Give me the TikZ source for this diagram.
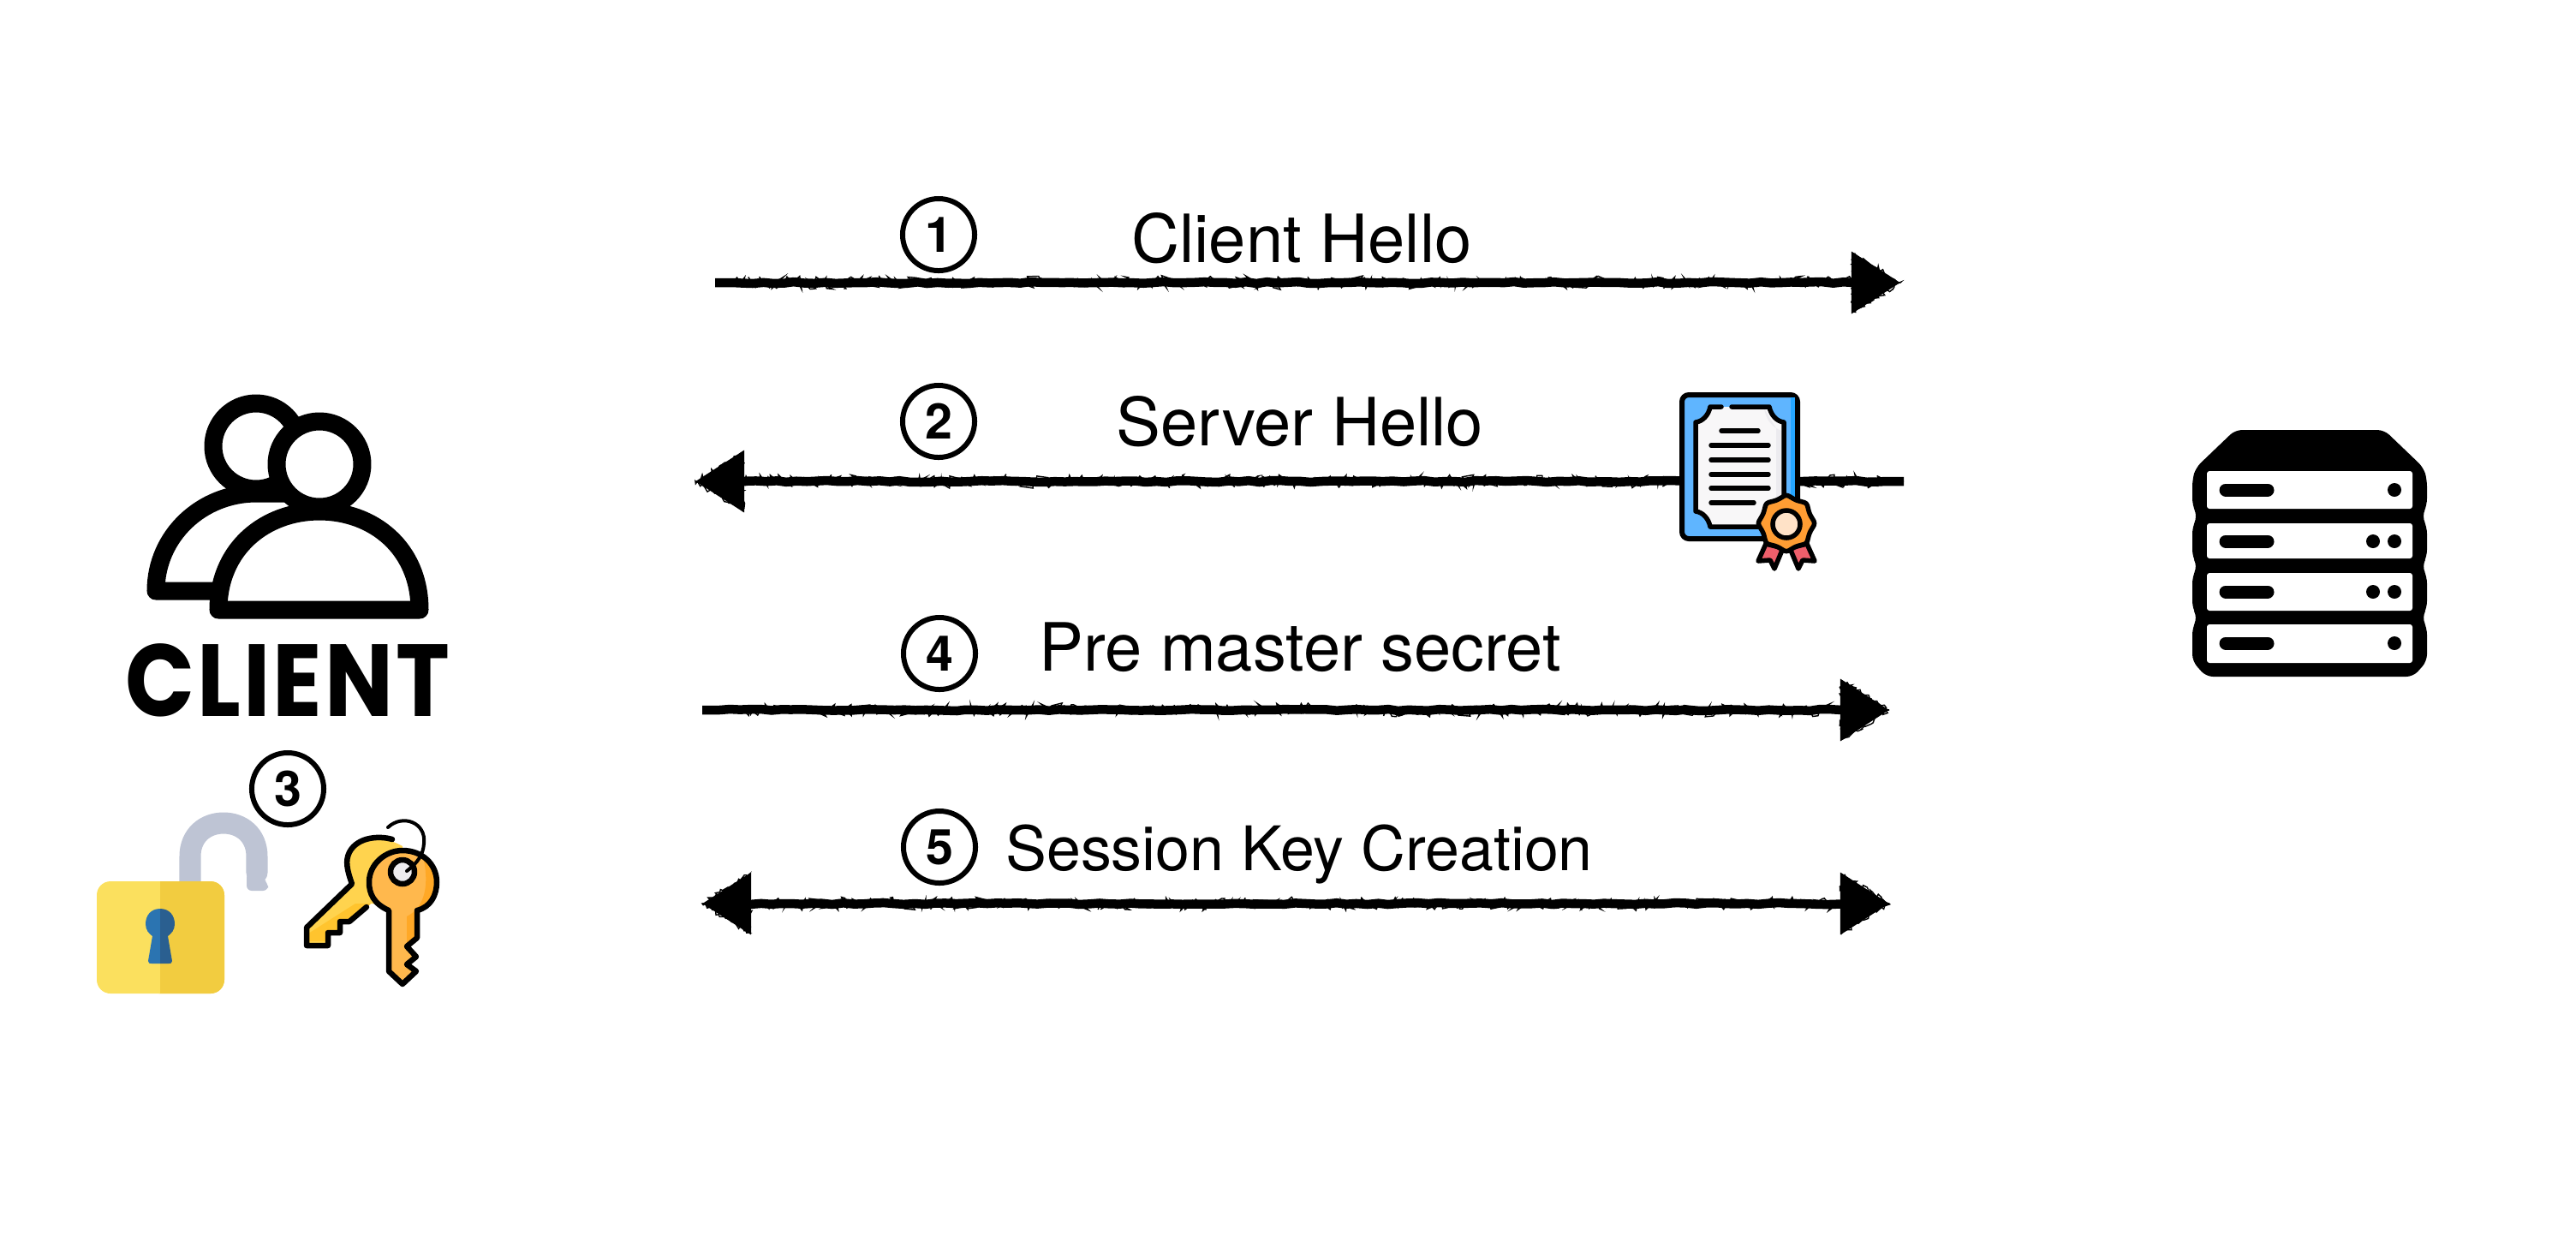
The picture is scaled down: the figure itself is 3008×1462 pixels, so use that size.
\documentclass[tikz,border=0pt]{standalone}
\usepackage{fontspec}
\setmainfont{TeX Gyre Heros}
\newfontfamily\logofont{Poppins}[LetterSpace=3]
\usepackage{tikz}
\usetikzlibrary{arrows.meta,shapes.geometric,decorations.pathmorphing}
\definecolor{bluecert}{HTML}{5FB5FF}
\definecolor{bluecertdark}{HTML}{25A6FF}
\definecolor{paper}{HTML}{F8F7F8}
\definecolor{paperdark}{HTML}{ECEBEF}
\definecolor{medal}{HTML}{FF9D33}
\definecolor{medalcore}{HTML}{FFE2C7}
\definecolor{ribbon}{HTML}{EF5F6B}
\definecolor{lockgrey}{HTML}{BEC4D4}
\definecolor{lockyellow}{HTML}{FBE05E}
\definecolor{lockdark}{HTML}{F2CC40}
\definecolor{holeblue}{HTML}{2B74B1}
\definecolor{holedark}{HTML}{2A5F90}
\definecolor{keyyellow}{HTML}{FFD34E}
\definecolor{keydeep}{HTML}{FFC42E}
\definecolor{keyorange}{HTML}{FFB84D}
\definecolor{keydark}{HTML}{FFA826}
\tikzset{
  fuzz/.style={draw,arrows=-,line width=.14mm,decorate,
    decoration={random steps,segment length=.3mm,amplitude=#1}},
  fuzz/.default=.75mm,
  chalk/.style={line width=1.05mm,decorate,
    decoration={random steps,segment length=1.2mm,amplitude=.1mm,pre length=2mm,post length=2mm},
    postaction={fuzz}},
  tip/.style={-{Triangle[length=5.7mm,width=7mm]}},
  stepnum/.style={circle,draw,line width=.6mm,minimum size=8.4mm,inner sep=0pt,
    font=\fontsize{16.3}{18}\selectfont\bfseries},
  msg/.style={anchor=base,inner sep=0pt,font=\fontsize{22.1}{26}\selectfont},
  person/.style={draw,fill=white,line width=2.1mm,line join=round},
  outl/.style={draw,line width=.65mm,line join=round,line cap=round}
}
\newcommand{\roughhead}[2]{\draw[fuzz=.3mm,shift={(#1)},xscale=#2] (0,0) -- (-55,-34) -- (-55,34) -- cycle;}
\begin{document}
\begin{tikzpicture}[x=0.01cm,y=-0.01cm]
\pgfmathsetseed{17}
\useasboundingbox (0,0) rectangle (3008,1462);

  % arrows
\coordinate (a1) at (835,330);
\coordinate (a2) at (2219,330);
\coordinate (b1) at (2223,562);
\coordinate (b2) at (812,562);
\coordinate (c1) at (820,829);
\coordinate (c2) at (2206,829);
\coordinate (d1) at (820,1055);
\coordinate (d2) at (2206,1055);

\draw[chalk,tip] (a1) -- (a2);
\draw[chalk,tip] (b1) -- (b2);
\draw[chalk,tip] (c1) -- (c2);
\draw[chalk,{Triangle[length=5.7mm,width=7mm]}-{Triangle[length=5.7mm,width=7mm]}] (d1) -- (d2);
\roughhead{a2}{1}
\roughhead{b2}{-1}
\roughhead{c2}{1}
\roughhead{d1}{-1}
\roughhead{d2}{1}

  % labels
\node[stepnum] (s1) at (1096,274) {1};
\node[stepnum] (s2) at (1096,492) {2};
\node[stepnum] (s3) at (336,921) {3};
\node[stepnum] (s4) at (1097,763) {4};
\node[stepnum] (s5) at (1097,989) {5};
\node[msg] (m1) at (1520,306) {Client Hello};
\node[msg] (m2) at (1518,520) {Server Hello};
\node[msg] (m4) at (1518,783) {Pre master secret};
\node[msg,font=\fontsize{20.4}{24}\selectfont] (m5) at (1517,1016) {Session Key Creation};

  % client
\draw[person] (182,690) .. controls (182,625) and (236,576) .. (299,576) -- (370,576) -- (370,690) -- cycle;
\draw[person] (299,521) circle[radius=50];
\draw[person] (255,712) .. controls (255,640) and (310,597) .. (373,597)
  .. controls (436,597) and (490,640) .. (490,712) -- cycle;
\draw[person] (373,542) circle[radius=50];
\node[inner sep=0pt,xscale=0.89,transform shape,font=\logofont\fontsize{34}{36}\selectfont\bfseries] (client) at (336,794) {CLIENT};

\begin{scope}[shift={(0,-5)}]
  % lock
\draw[lockgrey,line width=2.5mm,line cap=round] (222,1040) -- (222,1005)
  .. controls (222,980) and (240,966) .. (261,966)
  .. controls (282,966) and (300,980) .. (300,1005) -- (300,1024);
\fill[lockgrey,rounded corners=.6mm] (288,1024) -- (313,1024) -- (306,1030) -- (313,1036) -- (313,1045) -- (288,1045) -- cycle;
\fill[lockyellow,rounded corners=1.6mm] (113,1034) rectangle (262,1165);
\fill[lockdark,rounded corners=1.6mm] (170,1034) rectangle (262,1165);
\fill[lockyellow] (170,1034) rectangle (187,1165);
\fill[holeblue] (187,1066) .. controls (176,1066) and (170,1074) .. (170,1084)
  .. controls (170,1091) and (174,1095) .. (178,1098) -- (173,1127)
  .. controls (173,1130) and (175,1130) .. (177,1130) -- (187,1130) -- cycle;
\fill[holedark] (187,1066) .. controls (198,1066) and (204,1074) .. (204,1084)
  .. controls (204,1091) and (200,1095) .. (196,1098) -- (201,1127)
  .. controls (201,1130) and (199,1130) .. (197,1130) -- (187,1130) -- cycle;

  % keys
\fill[keyyellow] (470,993) .. controls (450,981) and (418,981) .. (408,1000)
  .. controls (403,1010) and (405,1020) .. (411,1037)
  -- (358,1088) -- (358,1109) -- (383,1109) -- (383,1094) -- (397,1094) -- (397,1081)
  -- (408,1081) -- (433,1060) -- (470,1064) -- cycle;
\fill[keydeep] (360,1104) -- (360,1095) -- (415,1060) -- (433,1060) -- (408,1081) -- (397,1081) -- (397,1094) -- (383,1094) -- (383,1104) -- cycle;
\draw[outl] (458,985) .. controls (445,981) and (418,981) .. (408,1000)
  .. controls (403,1010) and (405,1020) .. (411,1037)
  -- (358,1088) -- (358,1109) -- (383,1109) -- (383,1094) -- (397,1094) -- (397,1081)
  -- (408,1081) -- (428,1064);
\fill[keyorange] (454,1068) .. controls (436,1060) and (431,1048) .. (431,1035)
  .. controls (431,1014) and (450,998) .. (470,998)
  .. controls (493,998) and (510,1014) .. (510,1035)
  .. controls (510,1050) and (503,1064) .. (487,1068)
  -- (487,1100) -- (475,1110) -- (486,1122) -- (475,1131) -- (486,1139)
  -- (470,1154) -- (454,1139) -- cycle;
\fill[keydark] (493,1001) .. controls (508,1012) and (510,1035) .. (510,1035)
  .. controls (510,1050) and (503,1064) .. (487,1068) -- (487,1100) -- (475,1110) -- (475,1075)
  .. controls (495,1065) and (503,1040) .. (493,1001) -- cycle;
\draw[outl] (454,1068) .. controls (436,1060) and (431,1048) .. (431,1035)
  .. controls (431,1014) and (450,998) .. (470,998)
  .. controls (493,998) and (510,1014) .. (510,1035)
  .. controls (510,1050) and (503,1064) .. (487,1068)
  -- (487,1100) -- (475,1110) -- (486,1122) -- (475,1131) -- (486,1139)
  -- (470,1154) -- (454,1139) -- cycle;
\draw[outl,fill=paperdark] (470,1023) circle[radius=14];
\draw[line width=.4mm,line cap=round] (453,971) .. controls (470,955) and (498,965) .. (495,990)
  .. controls (494,1003) and (488,1012) .. (475,1022);
\end{scope}

  % certificate
\draw[fill=bluecert,line width=.6mm,rounded corners=.8mm] (1964,461) rectangle (2099,629);
\fill[bluecertdark] (2091,464) rectangle (2096,626);
\fill[paper] (1997,475) -- (2066,475) .. controls (2068,485) and (2075,492) .. (2083,493)
  -- (2083,597) .. controls (2075,598) and (2068,605) .. (2066,615) -- (1997,615)
  .. controls (1995,605) and (1988,598) .. (1980,597) -- (1980,493)
  .. controls (1988,492) and (1995,485) .. (1997,475) -- cycle;
\fill[paperdark] (2060,477) .. controls (2062,490) and (2070,500) .. (2081,503) -- (2081,597) -- (2074,600) -- (2074,500) -- cycle;
\draw[line width=.55mm,line cap=round,line join=round] (2022,475) -- (2066,475)
  .. controls (2068,485) and (2075,492) .. (2083,493)
  -- (2083,597) .. controls (2075,598) and (2068,605) .. (2066,615) -- (1997,615)
  .. controls (1995,605) and (1988,598) .. (1980,597) -- (1980,493)
  .. controls (1988,492) and (1995,485) .. (1997,475) -- (2010,475);
\foreach \i/\xa/\xb in {503/2010/2053,520/1998/2065,537/1998/2065,554/1998/2065,570/1998/2065,587/1998/2048}
{
  \draw[line width=.55mm,line cap=round] (\xa,\i) -- (\xb,\i);
}
\draw[outl,fill=ribbon,line width=.55mm] (2062,635) -- (2053,655) -- (2067,654) -- (2072,664) -- (2082,640) -- cycle;
\draw[outl,fill=ribbon,line width=.55mm] (2110,635) -- (2119,655) -- (2105,654) -- (2100,664) -- (2090,640) -- cycle;
\node[star,star points=8,star point ratio=1.15,draw,fill=medal,line width=.55mm,minimum size=6.7mm,inner sep=0pt,rounded corners=.3mm] (seal) at (2086,611) {};
\node[circle,draw,fill=medalcore,line width=.55mm,minimum size=3.2mm,inner sep=0pt] (sealcore) at (2086,612) {};

  % server
\fill[rounded corners=.8mm] (2610,502) -- (2784,502) -- (2830,546) -- (2834,560) -- (2834,590) -- (2828,603)
  -- (2834,615) -- (2834,650) -- (2828,661) -- (2834,673) -- (2834,710) -- (2828,721)
  -- (2834,733) -- (2834,772) -- (2818,790) -- (2576,790) -- (2560,772) -- (2560,733)
  -- (2566,721) -- (2560,710) -- (2560,673) -- (2566,661) -- (2560,650) -- (2560,615)
  -- (2566,603) -- (2560,590) -- (2560,560) -- (2564,546) -- cycle;
\foreach \i/\j/\k in {550/594/572,611/652/632,669/713/691,729/774/751}
{
  \fill[white,rounded corners=.3mm] (2577,\i) rectangle (2817,\j);
  \draw[line width=1.5mm,line cap=round] (2599,\k) -- (2648,\k);
  \fill (2796,\k) circle[radius=8];
}
\fill (2771,632) circle[radius=8];
\fill (2771,691) circle[radius=8];
\end{tikzpicture}
\end{document}
